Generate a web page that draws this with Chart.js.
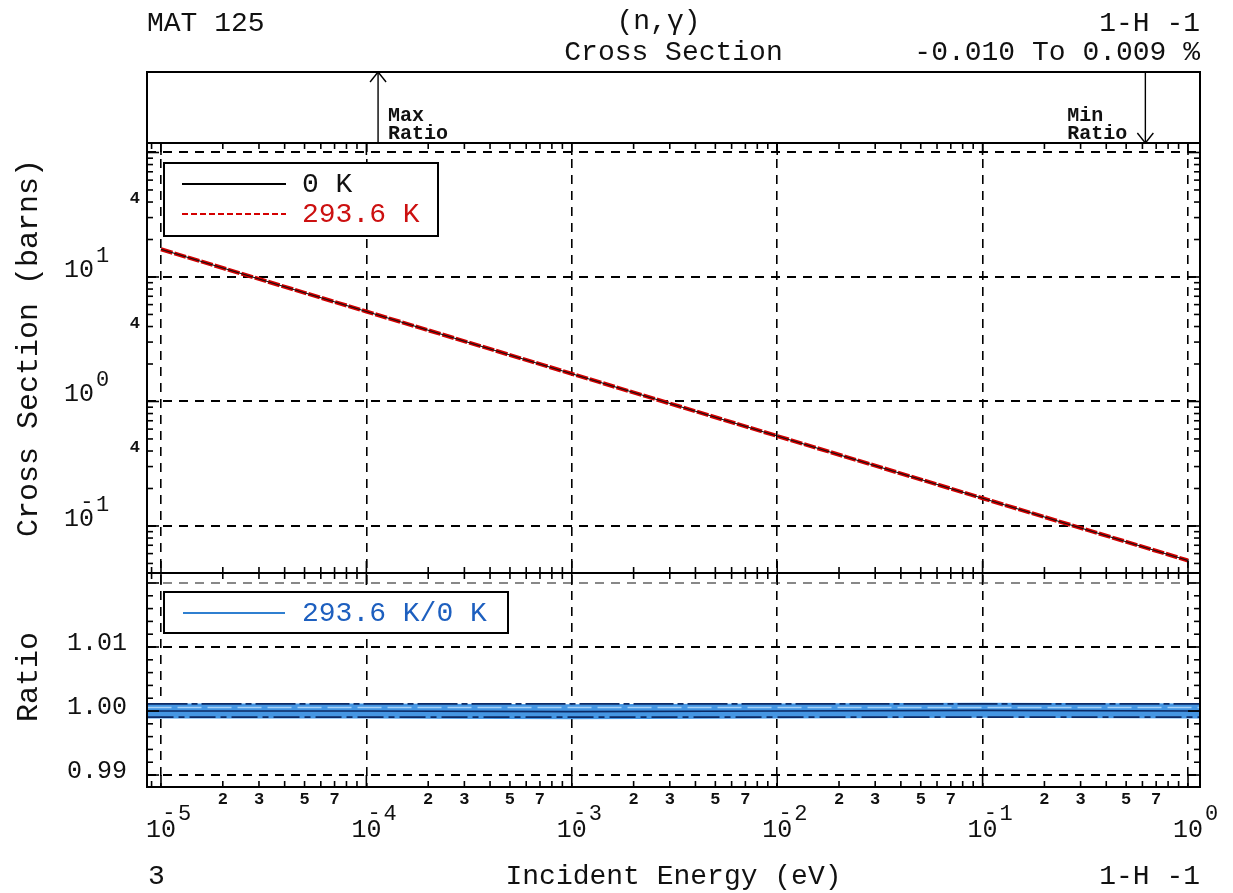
<!DOCTYPE html>
<html lang="en">
<head>
  <meta charset="UTF-8">
  <title>MAT 125 (n,gamma) Cross Section</title>
  <script src="https://cdn.jsdelivr.net/npm/chart.js"></script>
  <style>
    html, body { margin: 0; padding: 0; background: #fff; }
  </style>
</head>
<body>

  <canvas id="xsChart" width="1233" height="893"></canvas>

  <script>
    // cross section, barns, at both temperatures
    var energy = [1e-5, 1e-4, 1e-3, 1e-2, 1e-1, 1];
    var xs0K = [16.7, 5.28, 1.67, 0.528, 0.167, 0.0528];
    var xs293K = [16.7, 5.28, 1.67, 0.528, 0.167, 0.0528];

    // 293.6 K / 0 K ratio, plus the edge strokes of its plotted band
    var ratioEnergy = [8.6e-6, 1e-4, 1e-3, 1e-2, 1e-1, 1.14];
    var ratio293 = [1.0000, 1.0000, 0.9999, 1.0000, 1.0001, 1.0000];
    var ratioEdgeHi = [1.0011, 1.0011, 1.0011, 1.0011, 1.0011, 1.0011];
    var ratioEdgeMid = [1.00055, 1.00055, 1.00055, 1.00055, 1.00055, 1.00055];
    var ratioEdgeLo = [0.99906, 0.99906, 0.99906, 0.99906, 0.99906, 0.99906];

    // where the max / min ratio occur
    var maxRatioEnergy = 1.14e-4;
    var minRatioEnergy = 0.62;

    // axis ranges and tick labels
    var xRange = [8.55e-6, 1.144];
    var yRange = [0.0419, 119.2];
    var ratioRange = [0.98813, 1.02156];
    var xDecades = [1e-5, 1e-4, 1e-3, 1e-2, 1e-1, 1];
    var xExponents = ['-5', '-4', '-3', '-2', '-1', '0'];
    var xMinorLabels = ['2', '3', '5', '7'];
    var yDecades = [0.1, 1, 10, 100];
    var yLabelled = [10, 1, 0.1];
    var yExponents = ['1', '0', '-1'];
    var yFourTicks = [40, 4, 0.4];
    var ratioTicks = [0.99, 1.00, 1.01, 1.02];
    var ratioLabels = ['0.99', '1.00', '1.01'];

    var INK = '#111';
    var MONO = '"Liberation Mono", "DejaVu Sans Mono", monospace';

    function pairs(xv, yv) {
      return xv.map(function (x, i) { return { x: x, y: yv[i] }; });
    }

    function txt(ctx, s, x, y, size, color, align, base, bold) {
      ctx.font = (bold ? 'bold ' : '') + size + 'px ' + MONO;
      ctx.fillStyle = color || INK;
      ctx.textAlign = align || 'left';
      ctx.textBaseline = base || 'alphabetic';
      ctx.fillText(s, x, y);
    }

    function seg(ctx, x1, y1, x2, y2) {
      ctx.beginPath();
      ctx.moveTo(x1, y1);
      ctx.lineTo(x2, y2);
      ctx.stroke();
    }

    // "10" with a raised exponent; a leading minus is drawn over the zero
    function powLabel(ctx, left, base, exp, supDy) {
      ctx.font = '25px ' + MONO;
      var w = ctx.measureText('10').width;
      txt(ctx, '10', left, base, 25);
      var neg = exp.charAt(0) === '-';
      if (neg) txt(ctx, '-', left + w * 0.76, base - 18, 22, INK, 'center');
      txt(ctx, neg ? exp.slice(1) : exp, left + w + 2, base - supDy, 22);
      return w;
    }

    function logSteps(lo, hi) {
      var out = [];
      for (var e = Math.floor(Math.log10(lo)); e <= Math.ceil(Math.log10(hi)); e++) {
        for (var k = 1; k < 10; k++) {
          var v = k * Math.pow(10, e);
          if (v >= lo && v <= hi) out.push({ v: v, major: k === 1 });
        }
      }
      return out;
    }

    function fixedTicks(list) {
      return function (scale) {
        scale.ticks = list.map(function (v) { return { value: v }; });
      };
    }

    var panels = {
      id: 'panels',
      beforeDraw: function (chart) {
        var ctx = chart.ctx;
        ctx.save();
        ctx.fillStyle = '#fff';
        ctx.fillRect(0, 0, chart.width, chart.height);
        ctx.restore();
      },
      afterDatasetsDraw: function (chart) {
        var ctx = chart.ctx;
        var ym = chart.scales.y, yr = chart.scales.yRatio;
        var L = chart.chartArea.left;
        ctx.save();
        ctx.lineWidth = 2;
        ctx.strokeStyle = '#000';

        // legend of the cross-section panel
        ctx.fillStyle = '#fff';
        ctx.fillRect(L + 17, ym.top + 20, 274, 73);
        ctx.strokeRect(L + 17, ym.top + 20, 274, 73);
        ctx.strokeStyle = '#000';
        seg(ctx, L + 35, ym.top + 41, L + 139, ym.top + 41);
        ctx.strokeStyle = '#d40000';
        ctx.setLineDash([6, 3]);
        seg(ctx, L + 35, ym.top + 71, L + 139, ym.top + 71);
        ctx.setLineDash([]);
        txt(ctx, '0 K', L + 155, ym.top + 42, 28, INK, 'left', 'middle');
        txt(ctx, '293.6 K', L + 155, ym.top + 72, 28, '#cc1010', 'left', 'middle');

        // legend of the ratio panel
        ctx.strokeStyle = '#000';
        ctx.fillStyle = '#fff';
        ctx.fillRect(L + 17, yr.top + 19, 344, 41);
        ctx.strokeRect(L + 17, yr.top + 19, 344, 41);
        ctx.strokeStyle = '#2f7fd0';
        seg(ctx, L + 36, yr.top + 40, L + 138, yr.top + 40);
        txt(ctx, '293.6 K/0 K', L + 155, yr.top + 41, 28, '#1d5fbf', 'left', 'middle');
        ctx.restore();
      },
      afterDraw: function (chart) {
        var ctx = chart.ctx;
        var xs = chart.scales.x, ym = chart.scales.y, yr = chart.scales.yRatio;
        var L = chart.chartArea.left, R = chart.chartArea.right;
        var boxTop = ym.top - 71;
        ctx.save();
        ctx.strokeStyle = '#000';

        // inward tick marks along the x axis
        ctx.lineWidth = 1.6;
        logSteps(xs.min, xs.max).forEach(function (t) {
          var px = xs.getPixelForValue(t.v);
          var len = t.major ? 12 : 6;
          seg(ctx, px, ym.top, px, ym.top + len);
          seg(ctx, px, ym.bottom - len, px, ym.bottom + len);
          seg(ctx, px, yr.bottom - len, px, yr.bottom);
        });
        // log ticks on both sides of the cross-section panel
        logSteps(ym.min, ym.max).forEach(function (t) {
          var py = ym.getPixelForValue(t.v);
          var len = t.major ? 12 : 6;
          seg(ctx, L, py, L + len, py);
          seg(ctx, R - len, py, R, py);
        });
        // ratio ticks every 0.002
        for (var i = 494; i <= 511; i++) {
          var v = i * 0.002;
          if (v < yr.min || v > yr.max) continue;
          var py = yr.getPixelForValue(v);
          var len = (i % 5 === 0) ? 12 : 6;
          seg(ctx, L, py, L + len, py);
          seg(ctx, R - len, py, R, py);
        }

        // panel frames
        ctx.lineWidth = 2;
        ctx.strokeRect(L, boxTop, R - L, ym.top - boxTop);
        ctx.strokeRect(L, ym.top, R - L, ym.bottom - ym.top);
        ctx.strokeRect(L, yr.top, R - L, yr.bottom - yr.top);

        // max / min ratio markers
        ctx.lineWidth = 1.4;
        var ax = xs.getPixelForValue(maxRatioEnergy);
        seg(ctx, ax, ym.top, ax, boxTop);
        seg(ctx, ax - 8, boxTop + 10, ax, boxTop);
        seg(ctx, ax + 8, boxTop + 10, ax, boxTop);
        txt(ctx, 'Max', ax + 10, boxTop + 49, 20, INK, 'left', 'alphabetic', true);
        txt(ctx, 'Ratio', ax + 10, boxTop + 67, 20, INK, 'left', 'alphabetic', true);
        var bx = xs.getPixelForValue(minRatioEnergy);
        seg(ctx, bx, boxTop, bx, ym.top);
        seg(ctx, bx - 8, ym.top - 10, bx, ym.top);
        seg(ctx, bx + 8, ym.top - 10, bx, ym.top);
        txt(ctx, 'Min', bx - 78, boxTop + 49, 20, INK, 'left', 'alphabetic', true);
        txt(ctx, 'Ratio', bx - 78, boxTop + 67, 20, INK, 'left', 'alphabetic', true);

        // x tick labels
        xDecades.forEach(function (d, k) {
          var px = xs.getPixelForValue(d);
          ctx.font = '25px ' + MONO;
          var w = ctx.measureText('10').width;
          powLabel(ctx, px - w / 2, yr.bottom + 50, xExponents[k], 17);
          if (d < 1) {
            xMinorLabels.forEach(function (m) {
              var mx = xs.getPixelForValue(Number(m) * d);
              txt(ctx, m, mx, yr.bottom + 13, 17, INK, 'center', 'middle', true);
            });
          }
        });

        // y tick labels, cross-section panel
        yLabelled.forEach(function (d, k) {
          var py = ym.getPixelForValue(d);
          ctx.font = '25px ' + MONO;
          var w = ctx.measureText('10').width;
          powLabel(ctx, L - 53 - w, py, yExponents[k], 15);
        });
        yFourTicks.forEach(function (d) {
          txt(ctx, '4', L - 7, ym.getPixelForValue(d) - 3, 17, INK, 'right', 'middle', true);
        });

        // y tick labels, ratio panel
        ratioLabels.forEach(function (s) {
          txt(ctx, s, L - 20, yr.getPixelForValue(Number(s)) + 3, 25, INK, 'right');
        });

        // axis titles
        ctx.save();
        ctx.translate(37, (ym.top + ym.bottom) / 2 - 10);
        ctx.rotate(-Math.PI / 2);
        txt(ctx, 'Cross Section (barns)', 0, 0, 30, INK, 'center');
        ctx.restore();
        ctx.save();
        ctx.translate(37, (yr.top + yr.bottom) / 2 - 3);
        ctx.rotate(-Math.PI / 2);
        txt(ctx, 'Ratio', 0, 0, 30, INK, 'center');
        ctx.restore();

        // header and footer text
        var mid = (L + R) / 2;
        txt(ctx, 'MAT 125', L, 31, 28);
        txt(ctx, '(n,\u03b3)', mid - 15, 29, 28, INK, 'center');
        txt(ctx, '1-H -1', R, 31, 28, INK, 'right');
        txt(ctx, 'Cross Section', mid, 60, 28, INK, 'center');
        txt(ctx, '-0.010 To 0.009 %', R, 60, 28, INK, 'right');
        txt(ctx, '3', L + 1, 884, 28);
        txt(ctx, 'Incident Energy (eV)', mid, 884, 28, INK, 'center');
        txt(ctx, '1-H -1', R, 884, 28, INK, 'right');
        ctx.restore();
      }
    };

    var gridDash = [9, 7];

    new Chart(document.getElementById('xsChart').getContext('2d'), {
      type: 'line',
      data: {
        datasets: [
          { label: '0 K', data: pairs(energy, xs0K), yAxisID: 'y',
            borderColor: '#111', borderWidth: 1.1, pointRadius: 0, order: 1 },
          { label: '293.6 K', data: pairs(energy, xs293K), yAxisID: 'y',
            borderColor: '#d40000', borderWidth: 4, borderDash: [12, 2], pointRadius: 0, order: 2 },
          { label: '293.6 K/0 K', data: pairs(ratioEnergy, ratio293), yAxisID: 'yRatio',
            borderColor: '#4596e3', borderWidth: 15, pointRadius: 0, order: 9 },
          { label: 'edge hi', data: pairs(ratioEnergy, ratioEdgeHi), yAxisID: 'yRatio',
            borderColor: '#0b2a66', borderWidth: 1.8, borderDash: [40, 4, 6, 4], pointRadius: 0, order: 5 },
          { label: 'edge mid', data: pairs(ratioEnergy, ratioEdgeMid), yAxisID: 'yRatio',
            borderColor: '#a9d2f6', borderWidth: 1.5, borderDash: [24, 6], pointRadius: 0, order: 6 },
          { label: 'center', data: pairs(ratioEnergy, ratio293), yAxisID: 'yRatio',
            borderColor: '#0b2a66', borderWidth: 1.6, pointRadius: 0, order: 4 },
          { label: 'edge lo', data: pairs(ratioEnergy, ratioEdgeLo), yAxisID: 'yRatio',
            borderColor: '#0b2a66', borderWidth: 1.8, borderDash: [26, 5, 6, 5], pointRadius: 0, order: 7 }
        ]
      },
      options: {
        responsive: false,
        animation: false,
        devicePixelRatio: 1,
        layout: { padding: { left: 147, right: 33, top: 143, bottom: 106 } },
        plugins: { legend: { display: false }, tooltip: { enabled: false } },
        scales: {
          x: {
            type: 'logarithmic', min: xRange[0], max: xRange[1], bounds: 'data',
            afterBuildTicks: fixedTicks(xDecades),
            ticks: { display: false },
            border: { display: false, dash: gridDash },
            grid: { color: '#000', lineWidth: 1.6, drawTicks: false }
          },
          yRatio: {
            type: 'linear', position: 'left', stack: 'panels', stackWeight: 214,
            min: ratioRange[0], max: ratioRange[1], bounds: 'data',
            afterBuildTicks: fixedTicks(ratioTicks),
            ticks: { display: false },
            border: { display: false, dash: gridDash },
            grid: {
              color: function (c) { return c.tick && c.tick.value > 1.015 ? '#888' : '#000'; },
              lineWidth: 2, drawTicks: false
            }
          },
          y: {
            type: 'logarithmic', position: 'left', stack: 'panels', stackWeight: 430,
            min: yRange[0], max: yRange[1], bounds: 'data',
            afterBuildTicks: fixedTicks(yDecades),
            ticks: { display: false },
            border: { display: false, dash: gridDash },
            grid: { color: '#000', lineWidth: 2, drawTicks: false }
          }
        }
      },
      plugins: [panels]
    });
  </script>

</body>
</html>
